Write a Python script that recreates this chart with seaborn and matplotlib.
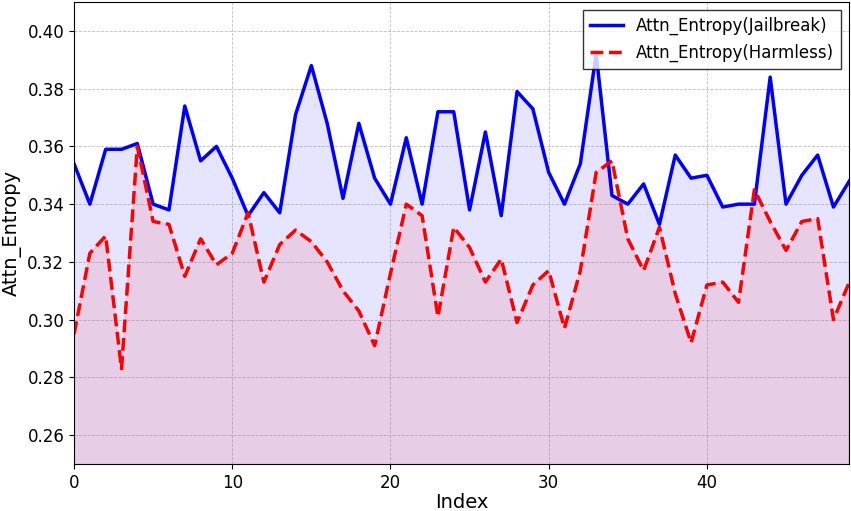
import numpy as np
import pandas as pd
import seaborn as sns
import matplotlib.pyplot as plt

jailbreak = [0.354, 0.340, 0.359, 0.359, 0.361, 0.340, 0.338, 0.374, 0.355, 0.360,
             0.349, 0.336, 0.344, 0.337, 0.371, 0.388, 0.368, 0.342, 0.368, 0.349,
             0.340, 0.363, 0.340, 0.372, 0.372, 0.338, 0.365, 0.336, 0.379, 0.373,
             0.351, 0.340, 0.354, 0.392, 0.343, 0.340, 0.347, 0.333, 0.357, 0.349,
             0.350, 0.339, 0.340, 0.340, 0.384, 0.340, 0.350, 0.357, 0.339, 0.348]
harmless = [0.295, 0.323, 0.329, 0.283, 0.360, 0.334, 0.333, 0.315, 0.328, 0.319,
            0.323, 0.337, 0.313, 0.326, 0.331, 0.327, 0.320, 0.310, 0.303, 0.291,
            0.316, 0.340, 0.336, 0.301, 0.332, 0.325, 0.313, 0.321, 0.299, 0.312,
            0.317, 0.297, 0.317, 0.351, 0.355, 0.328, 0.317, 0.332, 0.309, 0.292,
            0.312, 0.313, 0.306, 0.345, 0.334, 0.324, 0.334, 0.335, 0.300, 0.313]
idx = np.arange(len(jailbreak))

df = pd.DataFrame({"Index": idx, "jb": jailbreak, "hl": harmless})

fig, ax = plt.subplots(figsize=(8.51, 5.11), dpi=100)
sns.lineplot(data=df, x="Index", y="jb", color="blue", linewidth=2.5,
             label="Attn_Entropy(Jailbreak)", ax=ax)
sns.lineplot(data=df, x="Index", y="hl", color="red", linewidth=2.5, linestyle="--",
             label="Attn_Entropy(Harmless)", ax=ax)
ax.fill_between(df.Index, df.jb, color="blue", alpha=0.1)
ax.fill_between(df.Index, df.hl, color="red", alpha=0.1)

ax.set_xlim(0, 49)
ax.set_ylim(0.25, 0.41)
ax.set_xlabel("Index", fontsize=14, labelpad=1)
ax.set_ylabel("Attn_Entropy", fontsize=14)
ax.tick_params(labelsize=12)
ax.grid(True, linestyle="--", linewidth=0.6, color="gray", alpha=0.5)
ax.legend(loc="upper right", fontsize=12, fancybox=False, edgecolor="black")

plt.subplots_adjust(left=0.087, right=0.998, top=0.996, bottom=0.092)
plt.savefig("out.png")
